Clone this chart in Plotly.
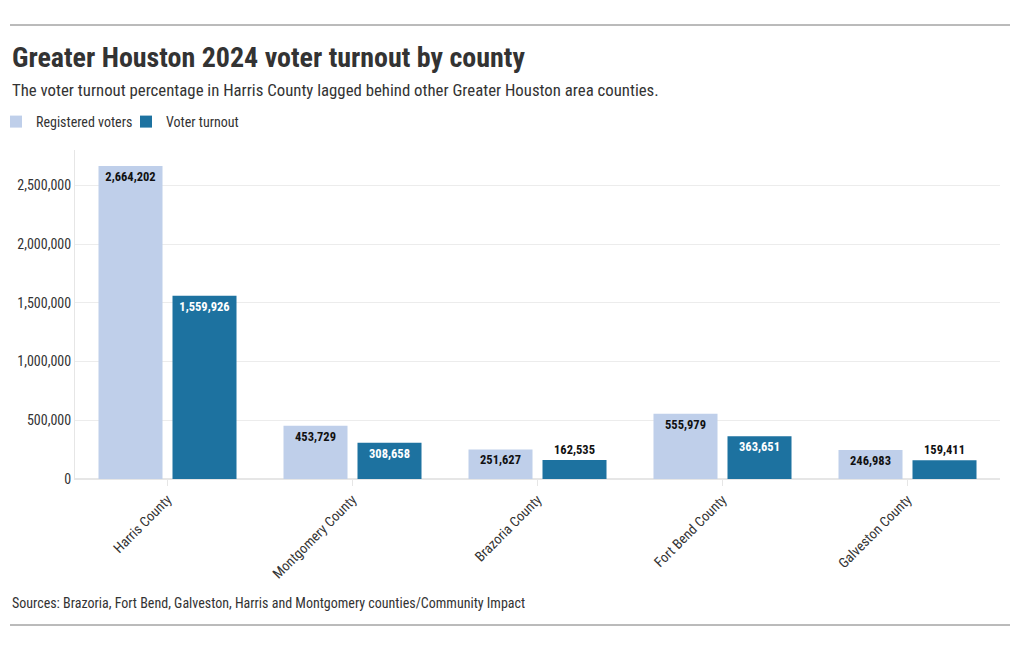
import plotly.graph_objects as go

counties = ["Harris County", "Montgomery County", "Brazoria County", "Fort Bend County", "Galveston County"]
registered = [2664202, 453729, 251627, 555979, 246983]
turnout = [1559926, 308658, 162535, 363651, 159411]
y_ticks = [0, 500000, 1000000, 1500000, 2000000, 2500000]

FONT = "Roboto Condensed, Liberation Sans Narrow, Roboto, sans-serif"
C_REG = "#bfcfea"
C_TURN = "#1d72a0"

reg_pos = ["inside" if v > 200000 else "outside" for v in registered]
turn_pos = ["inside" if v > 200000 else "outside" for v in turnout]

OFF = 8  # page body margin
W, H = 1020 - OFF, 650 - OFF
PL, PR, PT, PB = 75 - OFF, 1000 - OFF, 150 - OFF, 479 - OFF  # plot area in figure pixels


def px_x(x):
    return (x - OFF - PL) / (PR - PL)


def px_y(y):
    return (PB - (y - OFF)) / (PB - PT)


fig = go.Figure()
fig.add_trace(go.Bar(
    x=counties, y=registered, name="Registered voters",
    marker=dict(color=C_REG, line=dict(width=0)),
    text=[f"{v:,}" for v in registered], textposition=reg_pos,
    insidetextanchor="end", cliponaxis=False,
    insidetextfont=dict(family=FONT, size=12.5, color="#111111", weight="bold"),
    outsidetextfont=dict(family=FONT, size=12.5, color="#111111", weight="bold"),
    textangle=0,
))
fig.add_trace(go.Bar(
    x=counties, y=turnout, name="Voter turnout",
    marker=dict(color=C_TURN, line=dict(width=0)),
    text=[f"{v:,}" for v in turnout], textposition=turn_pos,
    insidetextanchor="end", cliponaxis=False,
    insidetextfont=dict(family=FONT, size=12.5, color="#ffffff", weight="bold"),
    outsidetextfont=dict(family=FONT, size=12.5, color="#111111", weight="bold"),
    textangle=0,
))

fig.update_layout(
    width=W, height=H,
    paper_bgcolor="white", plot_bgcolor="white",
    margin=dict(l=PL, r=W - PR, t=PT, b=H - PB, autoexpand=False),
    barmode="group", bargap=0.2, bargroupgap=0.135,
    font=dict(family=FONT, size=14, color="#333333"),
    showlegend=True,
    legend=dict(orientation="h", x=px_x(-4), xref="paper", xanchor="left",
                y=px_y(122), yref="paper", yanchor="middle",
                font=dict(family=FONT, size=14, color="#333333"),
                traceorder="normal", entrywidth=85, entrywidthmode="pixels"),
    xaxis=dict(tickangle=-45, showgrid=False, showline=True, linecolor="#e6e6e6",
               ticks="outside", ticklen=6, tickcolor="#e6e6e6", automargin=False,
               tickfont=dict(family=FONT, size=14, color="#333333")),
    yaxis=dict(range=[0, 2800000], tickvals=y_ticks, automargin=False,
               ticktext=[f"{v:,}" for v in y_ticks],
               showgrid=True, gridcolor="#ececec", zeroline=True, zerolinecolor="#e6e6e6",
               showline=True, linecolor="#e6e6e6",
               tickfont=dict(family=FONT, size=14, color="#333333")),
    shapes=[
        dict(type="line", xref="paper", yref="paper", x0=px_x(10), x1=px_x(1010),
             y0=px_y(25), y1=px_y(25), line=dict(color="#777777", width=1)),
        dict(type="line", xref="paper", yref="paper", x0=px_x(10), x1=px_x(1010),
             y0=px_y(625), y1=px_y(625), line=dict(color="#777777", width=1)),
    ],
)

fig.add_annotation(text="<b>Greater Houston 2024 voter turnout by county</b>",
                   xref="paper", yref="paper", x=px_x(10), y=px_y(57),
                   xanchor="left", yanchor="middle", showarrow=False,
                   font=dict(family=FONT, size=28, color="#333333"))
fig.add_annotation(text="The voter turnout percentage in Harris County lagged behind other Greater Houston area counties.",
                   xref="paper", yref="paper", x=px_x(10), y=px_y(90),
                   xanchor="left", yanchor="middle", showarrow=False,
                   font=dict(family=FONT, size=16.8, color="#333333"))
fig.add_annotation(text="Sources: Brazoria, Fort Bend, Galveston, Harris and Montgomery counties/Community Impact",
                   xref="paper", yref="paper", x=px_x(10), y=px_y(603),
                   xanchor="left", yanchor="middle", showarrow=False,
                   font=dict(family=FONT, size=14, color="#333333"))

fig.write_html("out.html")
